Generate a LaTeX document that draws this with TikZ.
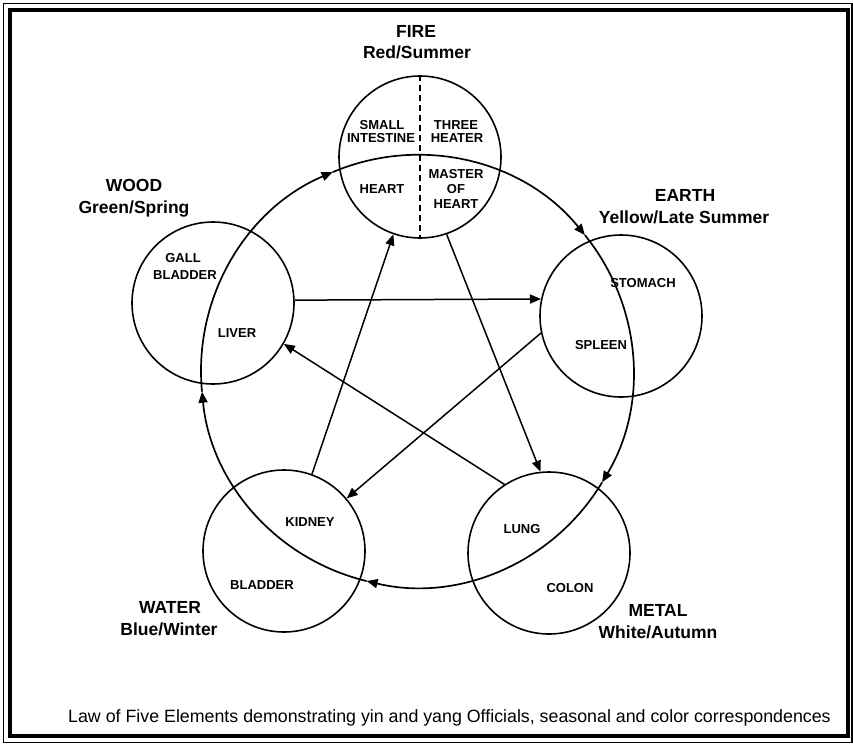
\documentclass[tikz,border=0pt]{standalone}
\usepackage{fontspec}
\setmainfont{Liberation Sans}
\usetikzlibrary{arrows.meta}
\begin{document}
\begin{tikzpicture}[x=1pt,y=-1pt,
  elem/.style={circle,draw,line width=1.6pt,minimum size=162pt,inner sep=0pt},
  organ/.style={font=\fontsize{13}{14}\selectfont\bfseries,inner sep=0pt,anchor=base},
  ename/.style={font=\fontsize{17.5}{20}\selectfont\bfseries,inner sep=0pt,anchor=base},
  conn/.style={line width=1.5pt,-{Triangle[length=11pt,width=9pt]}},
  cyc/.style={line width=1.7pt,-{Triangle[length=11pt,width=9pt]}},
  caption/.style={font=\fontsize{17.8}{20}\selectfont,inner sep=0pt,anchor=base west}
]
\useasboundingbox (0,0) rectangle (853,744);
\draw[line width=1.2pt] (3.5,3.5) rectangle (852,742.5);
\draw[line width=4pt] (10,10) rectangle (847.5,735.5);

% element circles
\node[elem] (fire) at (420,157) {};
\node[elem] (earth) at (621,316) {};
\node[elem] (metal) at (549,553) {};
\node[elem] (water) at (284,551) {};
\node[elem] (wood) at (213,303) {};

\draw[line width=1.6pt,dash pattern=on 6pt off 4pt] (fire.north) -- (fire.south);

% generating cycle (big circle)
\coordinate (C) at (417,371);
\draw[cyc] (C) ++(-185.5:216) arc[start angle=-185.5,end angle=-113,radius=216];
\draw[cyc] (C) ++(-113:216) arc[start angle=-113,end angle=-39,radius=216];
\draw[cyc] (C) ++(-39:216) arc[start angle=-39,end angle=31,radius=216];
\draw[cyc] (C) ++(31:216) arc[start angle=31,end angle=103.5,radius=216];
\draw[cyc] (C) ++(103.5:216) arc[start angle=103.5,end angle=174.5,radius=216];

% controlling cycle (star)
\draw[conn] (wood.2) -- (earth.168);
\draw[conn] (earth.192) -- (water.40);
\draw[conn] (water.70) -- (fire.251);
\draw[conn] (fire.289) -- (metal.96);
\draw[conn] (metal.123) -- (wood.330);

% element labels
\node[ename] (fire-n) at (416,37) {FIRE};
\node[ename] (fire-s) at (417,58) {Red/Summer};
\node[ename] (wood-n) at (134,191) {WOOD};
\node[ename] (wood-s) at (134,213) {Green/Spring};
\node[ename] (earth-n) at (685,201) {EARTH};
\node[ename] (earth-s) at (684,223) {Yellow/Late Summer};
\node[ename] (water-n) at (170,613) {WATER};
\node[ename] (water-s) at (169,635) {Blue/Winter};
\node[ename] (metal-n) at (658,616) {METAL};
\node[ename] (metal-s) at (658,638) {White/Autumn};

% organ labels
\node[organ] (f-si1) at (382,129) {SMALL};
\node[organ] (f-si2) at (381,142) {INTESTINE};
\node[organ] (f-th1) at (456,129) {THREE};
\node[organ] (f-th2) at (457,142) {HEATER};
\node[organ] (f-h) at (382,193) {HEART};
\node[organ] (f-m1) at (456,178) {MASTER};
\node[organ] (f-m2) at (456,193) {OF};
\node[organ] (f-m3) at (456,208) {HEART};
\node[organ] (w-gb1) at (183,262) {GALL};
\node[organ] (w-gb2) at (185,279) {BLADDER};
\node[organ] (w-lv) at (237,337) {LIVER};
\node[organ] (e-st) at (643,287) {STOMACH};
\node[organ] (e-sp) at (601,349) {SPLEEN};
\node[organ] (a-kd) at (310,526) {KIDNEY};
\node[organ] (a-bl) at (262,589) {BLADDER};
\node[organ] (m-lu) at (522,533) {LUNG};
\node[organ] (m-co) at (570,592) {COLON};

\node[caption] (cap) at (68,722) {Law of Five Elements demonstrating yin and yang Officials, seasonal and color correspondences};
\end{tikzpicture}
\end{document}
